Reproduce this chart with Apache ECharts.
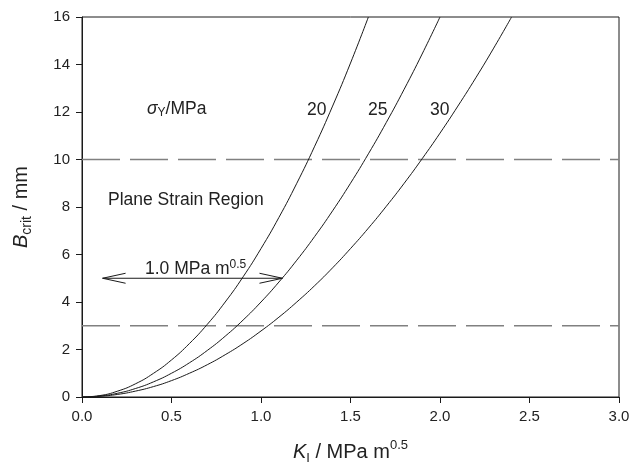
<!DOCTYPE html>
<html>
<head>
<meta charset="utf-8">
<script src="https://cdn.jsdelivr.net/npm/echarts@6/dist/echarts.min.js"></script>
<style>html,body{margin:0;padding:0;background:#fff}#c{width:630px;height:465px}</style>
</head>
<body>
<div id="c"></div>
<script>
// Stress intensity K_I (MPa m^0.5) sampled along each curve
var k20 = [0,0.1,0.2,0.3,0.4,0.5,0.6,0.7,0.8,0.9,1.0,1.1,1.2,1.3,1.4,1.5,1.6];
var b20 = [0,0.06,0.25,0.56,1.0,1.56,2.25,3.06,4.0,5.06,6.25,7.56,9.0,10.56,12.25,14.06,16.0];
var k25 = [0,0.1,0.2,0.3,0.4,0.5,0.6,0.7,0.8,0.9,1.0,1.1,1.2,1.3,1.4,1.5,1.6,1.7,1.8,1.9,2.0];
var b25 = [0,0.04,0.16,0.36,0.64,1.0,1.44,1.96,2.56,3.24,4.0,4.84,5.76,6.76,7.84,9.0,10.24,11.56,12.96,14.44,16.0];
var k30 = [0,0.1,0.2,0.3,0.4,0.5,0.6,0.7,0.8,0.9,1.0,1.1,1.2,1.3,1.4,1.5,1.6,1.7,1.8,1.9,2.0,2.1,2.2,2.3,2.4];
var b30 = [0,0.03,0.11,0.25,0.44,0.69,1.0,1.36,1.78,2.25,2.78,3.36,4.0,4.69,5.44,6.25,7.11,8.03,9.0,10.03,11.11,12.25,13.44,14.69,16.0];
var curveLabels = ['20','25','30'];
var limitLines = [10, 3];          // dashed B_crit levels (mm)
var arrowK = [0.115, 1.12];        // arrow span in K_I
var arrowB = 5;                    // arrow level in B_crit
var xTicks = [0, 0.5, 1.0, 1.5, 2.0, 2.5, 3.0];
var yTicks = [0, 2, 4, 6, 8, 10, 12, 14, 16];

function pairs(k, b){ return k.map(function(v,i){ return [v, b[i]]; }); }

var FONT = '"Liberation Sans", Arial, sans-serif';
var C = '#222';
var FS = 17.5;
var chart = echarts.init(document.getElementById('c'), null, {renderer:'canvas'});

var curveSeries = [[k20,b20],[k25,b25],[k30,b30]].map(function(kb){
  return {type:'line', data:pairs(kb[0],kb[1]), showSymbol:false, smooth:true,
    lineStyle:{color:'#1a1a1a', width:1}, silent:true, clip:true, z:3};
});
var dashSeries = limitLines.map(function(v){
  return {type:'line', data:[[0,v],[3,v]], showSymbol:false,
    lineStyle:{color:'#808080', width:1.5, type:[38,10]}, silent:true, z:2};
});
var arrowSeries = {
  type:'custom', data:[[arrowK[0], arrowK[1], arrowB]], silent:true, z:4,
  renderItem:function(params, api){
    var p1 = api.coord([api.value(0), api.value(2)]);
    var p2 = api.coord([api.value(1), api.value(2)]);
    var hl = 23, hh = 5;
    var st = {stroke:'#1a1a1a', lineWidth:1, fill:null};
    return {type:'group', children:[
      {type:'line', shape:{x1:p1[0],y1:p1[1],x2:p2[0],y2:p2[1]}, style:st},
      {type:'polyline', shape:{points:[[p1[0]+hl,p1[1]-hh],[p1[0],p1[1]],[p1[0]+hl,p1[1]+hh]]}, style:st},
      {type:'polyline', shape:{points:[[p2[0]-hl,p2[1]-hh],[p2[0],p2[1]],[p2[0]-hl,p2[1]+hh]]}, style:st}
    ]};
  }
};

var option = {
  animation:false,
  backgroundColor:'#fff',
  textStyle:{fontFamily:FONT},
  grid:{left:82, right:11, top:17, bottom:68, show:true, borderColor:'#1a1a1a', borderWidth:1,
    backgroundColor:'transparent', containLabel:false, outerBoundsMode:'none'},
  xAxis:{
    type:'value', min:0, max:3, interval:0.5,
    axisLine:{show:true, onZero:false, lineStyle:{color:'#1a1a1a'}},
    axisTick:{show:true, inside:false, length:6, lineStyle:{color:'#1a1a1a'}},
    splitLine:{show:false},
    axisLabel:{color:C, fontSize:15, margin:12, fontFamily:FONT,
      formatter:function(v){ return v.toFixed(1); }},
    name:'{it|K}{sub|I}{n| / MPa m}{sup|0.5}', nameLocation:'middle', nameGap:42,
    nameTextStyle:{rich:{
      it:{fontSize:20, fontStyle:'italic', color:C, fontFamily:FONT, lineHeight:26},
      sub:{fontSize:13, color:C, fontFamily:FONT, verticalAlign:'bottom', lineHeight:14},
      n:{fontSize:20, color:C, fontFamily:FONT, lineHeight:26},
      sup:{fontSize:13, color:C, fontFamily:FONT, verticalAlign:'top', lineHeight:14}
    }}
  },
  yAxis:{
    type:'value', min:0, max:16, interval:2,
    axisLine:{show:true, onZero:false, lineStyle:{color:'#1a1a1a'}},
    axisTick:{show:true, inside:false, length:6, lineStyle:{color:'#1a1a1a'}},
    splitLine:{show:false},
    axisLabel:{color:C, fontSize:15, margin:12, fontFamily:FONT},
    name:'{it|B}{sub|crit}{n| / mm}', nameLocation:'middle', nameGap:48, nameRotate:90,
    nameTextStyle:{rich:{
      it:{fontSize:20, fontStyle:'italic', color:C, fontFamily:FONT, lineHeight:26},
      sub:{fontSize:14, color:C, fontFamily:FONT, verticalAlign:'bottom', lineHeight:14},
      n:{fontSize:20, color:C, fontFamily:FONT, lineHeight:26}
    }}
  },
  series: dashSeries.concat(curveSeries).concat([arrowSeries]),
  graphic:[
    {type:'text', left:147, top:100, style:{
      text:'{it|σ}{sub|Y}{n|/MPa}', rich:{
        it:{fontSize:FS, fontStyle:'italic', fill:C, fontFamily:FONT, lineHeight:20},
        sub:{fontSize:12, fill:C, fontFamily:FONT, verticalAlign:'bottom', lineHeight:12},
        n:{fontSize:FS, fill:C, fontFamily:FONT, lineHeight:20}
      }}},
    {type:'text', left:307, top:101, style:{text:curveLabels[0], fontSize:FS, fill:C, fontFamily:FONT}},
    {type:'text', left:368, top:101, style:{text:curveLabels[1], fontSize:FS, fill:C, fontFamily:FONT}},
    {type:'text', left:430, top:101, style:{text:curveLabels[2], fontSize:FS, fill:C, fontFamily:FONT}},
    {type:'text', left:108, top:191, style:{text:'Plane Strain Region', fontSize:FS, fill:C, fontFamily:FONT}},
    {type:'text', left:145, top:259, style:{
      text:'{n|1.0 MPa m}{sup|0.5}', rich:{
        n:{fontSize:FS, fill:C, fontFamily:FONT, lineHeight:20},
        sup:{fontSize:12, fill:C, fontFamily:FONT, verticalAlign:'top', lineHeight:12}
      }}}
  ]
};
chart.setOption(option);
</script>
</body>
</html>
